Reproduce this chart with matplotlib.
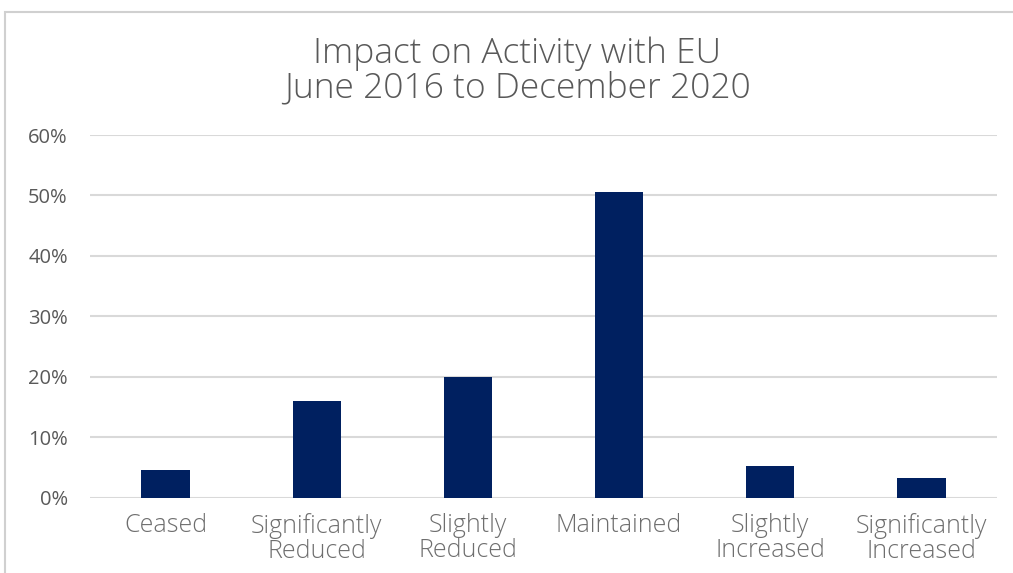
import matplotlib.pyplot as plt
from matplotlib.patches import Rectangle
from matplotlib.ticker import PercentFormatter

categories = ["Ceased", "Significantly\nReduced", "Slightly\nReduced", "Maintained",
              "Slightly\nIncreased", "Significantly\nIncreased"]
shares = [4.6, 16.0, 19.9, 50.5, 5.2, 3.3]

BAR = "#002060"
TEXT = "#595959"
LABEL = "#6E6E6E"
GRID = "#D9D9D9"

plt.rcParams["font.family"] = ["Open Sans", "DejaVu Sans"]

fig = plt.figure(figsize=(10.13, 5.73), dpi=100)
ax = fig.add_axes([90 / 1013, 1 - 497.5 / 573, 907 / 1013, 362.5 / 573])

ax.bar(range(len(categories)), shares, width=0.32, color=BAR, zorder=3)
ax.set_xlim(-0.5, len(categories) - 0.5)
ax.set_ylim(0, 60)
ax.set_yticks(range(0, 61, 10))
ax.yaxis.set_major_formatter(PercentFormatter(decimals=0))
ax.set_xticks(range(len(categories)))
ax.set_xticklabels(categories, linespacing=1.02, fontsize=18, color=LABEL,
                   fontweight="light")
ax.tick_params(axis="x", length=0, pad=11)
ax.tick_params(axis="y", length=0, pad=16, labelsize=14.5, labelcolor=TEXT)
ax.grid(axis="y", color=GRID, linewidth=1.5, zorder=0)
for side in ax.spines.values():
    side.set_visible(False)

fig.text(517 / 1013, 1 - 71 / 573, "Impact on Activity with EU\nJune 2016 to December 2020",
         ha="center", va="center", fontsize=25.5, color=TEXT, fontweight="light",
         linespacing=1.0)

# light frame around the chart area
fig.patches.append(Rectangle((5 / 1013, -0.1), 1.1, 1.1 - 12 / 573,
                             transform=fig.transFigure, fill=False,
                             edgecolor="#D0D0D0", linewidth=1.5))

fig.savefig("out.png", dpi=100)
